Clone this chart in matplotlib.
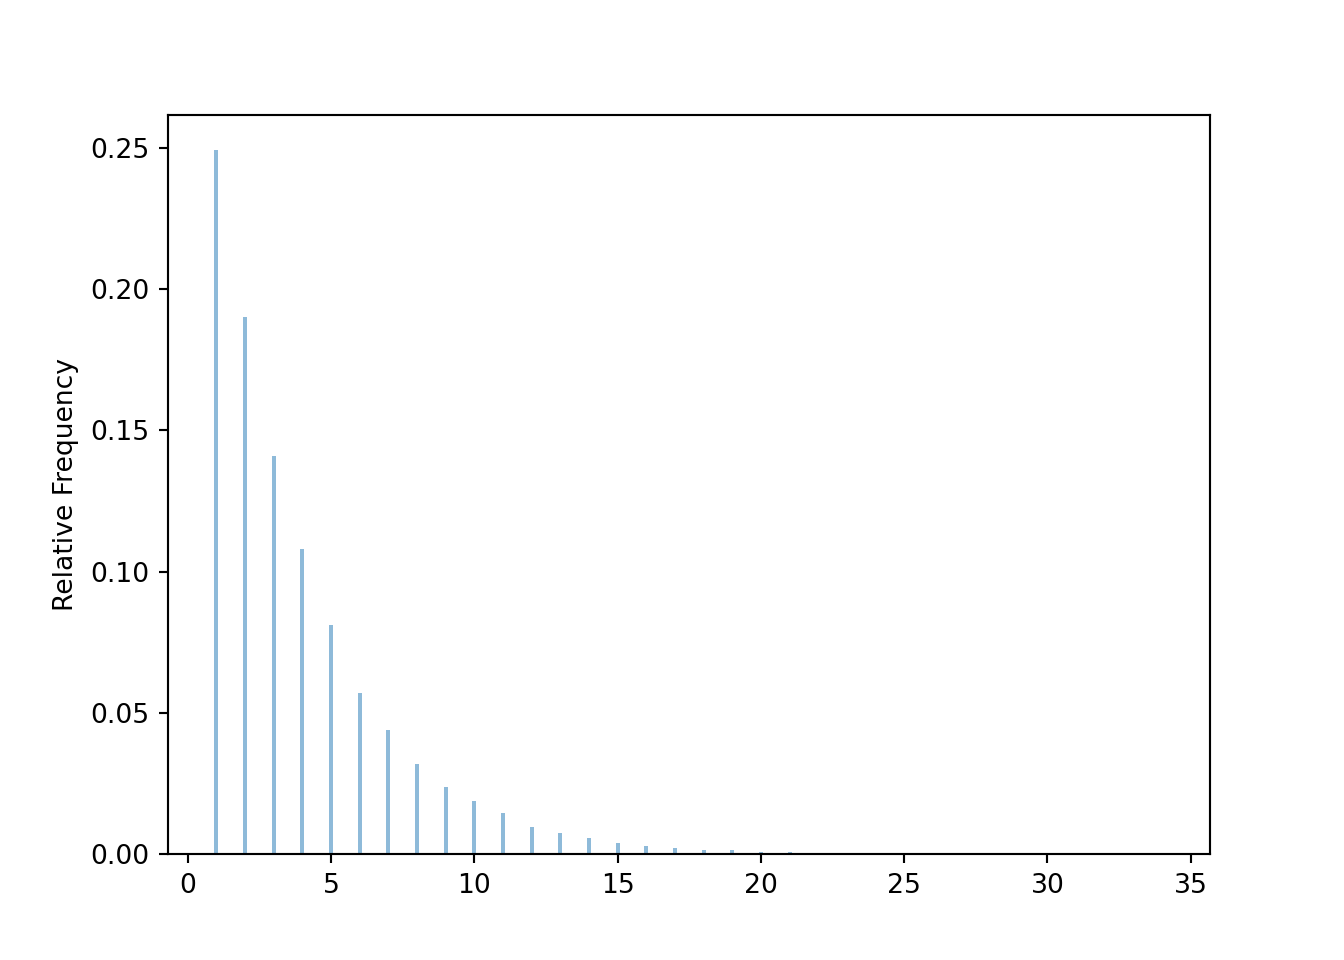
import matplotlib.pyplot as plt

# number of trials until event, relative frequency
counts = list(range(1, 35))
rel_freq = [0.249, 0.190, 0.141, 0.108, 0.081, 0.057, 0.044, 0.032, 0.024,
            0.019, 0.0145, 0.0098, 0.0075, 0.0057, 0.0039, 0.0028, 0.0021,
            0.0014, 0.0014, 0.0007, 0.0007, 0.0003, 0.0002, 0.0002, 0.0001,
            0.0001, 0.0001, 0.00005, 0.00005, 0.00005, 0.00003, 0.00003,
            0.00002, 0.00002]

fig = plt.figure(figsize=(7, 5), dpi=192)
ax = fig.add_subplot(111)
ax.bar(counts, rel_freq, width=0.14, alpha=0.5, color='C0')
ax.set_xlim(-0.69, 35.66)
ax.set_ylabel('Relative Frequency')

fig.savefig('out.png')
